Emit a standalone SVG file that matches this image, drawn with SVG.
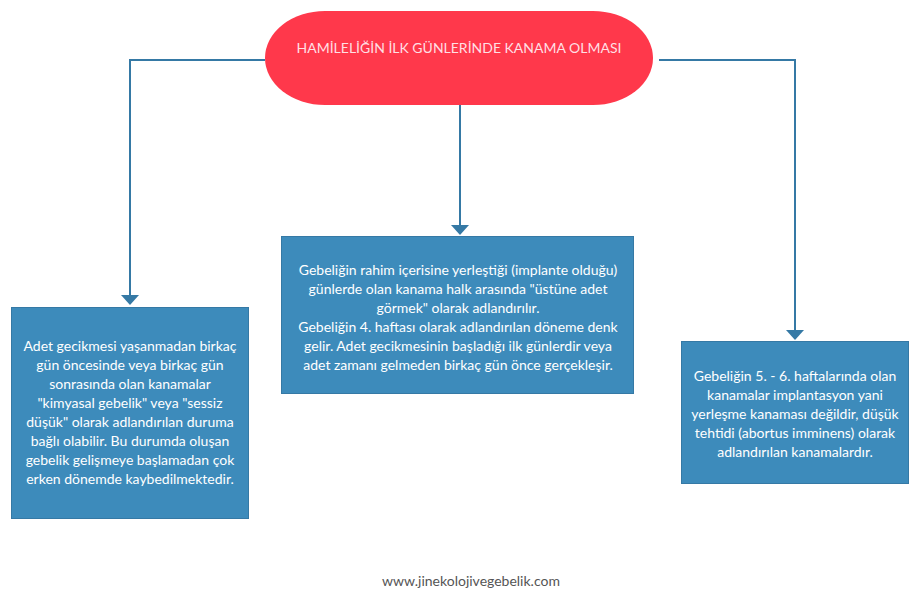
<svg xmlns="http://www.w3.org/2000/svg" width="920" height="600" viewBox="0 0 920 600">
<defs>
<style>
.box{fill:#3d8bbb;stroke:#3579a5;stroke-width:1}
.t{font-family:Lato,"Open Sans",sans-serif;font-size:14px;fill:#ffffff;text-anchor:middle}
.c{fill:none;stroke:#3579a5;stroke-width:2}
</style>
</defs>
<rect width="920" height="600" fill="#ffffff"/>
<g id="connectors">
<path class="c" d="M265,60 H130 V295"/>
<path class="c" d="M460,105 V225"/>
<path class="c" d="M659,60 H795 V330"/>
<path d="M121,295 L139,295 L130,305 Z" fill="#3579a5"/>
<path d="M451,225 L469,225 L460,235 Z" fill="#3579a5"/>
<path d="M786,330 L804,330 L795,340 Z" fill="#3579a5"/>
</g>
<g id="root">
<rect x="265" y="11" width="388" height="94" rx="60" ry="47" fill="#ff384b"/>
<text class="t" x="459" y="53" style="fill:#ffdfe3">HAMİLELİĞİN İLK GÜNLERİNDE KANAMA OLMASI</text>
</g>
<g id="center">
<rect class="box" x="281.5" y="236.5" width="352" height="157"/>
<text class="t" x="458" y="275">Gebeliğin rahim içerisine yerleştiği (implante olduğu)</text>
<text class="t" x="458" y="294">günlerde olan kanama halk arasında "üstüne adet</text>
<text class="t" x="458" y="312.5">görmek" olarak adlandırılır.</text>
<text class="t" x="458" y="331.5">Gebeliğin 4. haftası olarak adlandırılan döneme denk</text>
<text class="t" x="458" y="350.5">gelir. Adet gecikmesinin başladığı ilk günlerdir veya</text>
<text class="t" x="458" y="369.5">adet zamanı gelmeden birkaç gün önce gerçekleşir.</text>
</g>
<g id="left">
<rect class="box" x="11.5" y="307.5" width="237" height="211"/>
<text class="t" x="130" y="351">Adet gecikmesi yaşanmadan birkaç</text>
<text class="t" x="130" y="370">gün öncesinde veya birkaç gün</text>
<text class="t" x="130" y="389">sonrasında olan kanamalar</text>
<text class="t" x="130" y="407.5">"kimyasal gebelik" veya "sessiz</text>
<text class="t" x="130" y="426.5">düşük" olarak adlandırılan duruma</text>
<text class="t" x="130" y="445.5">bağlı olabilir. Bu durumda oluşan</text>
<text class="t" x="130" y="464.5">gebelik gelişmeye başlamadan çok</text>
<text class="t" x="130" y="483.5">erken dönemde kaybedilmektedir.</text>
</g>
<g id="right">
<rect class="box" x="681.5" y="341.5" width="227" height="142"/>
<text class="t" x="795" y="381">Gebeliğin 5. - 6. haftalarında olan</text>
<text class="t" x="795" y="400">kanamalar implantasyon yani</text>
<text class="t" x="795" y="419">yerleşme kanaması değildir, düşük</text>
<text class="t" x="795" y="438">tehtidi (abortus imminens) olarak</text>
<text class="t" x="795" y="457">adlandırılan kanamalardır.</text>
</g>
<text class="t" x="471" y="586" style="fill:#555555">www.jinekolojivegebelik.com</text>
</svg>
